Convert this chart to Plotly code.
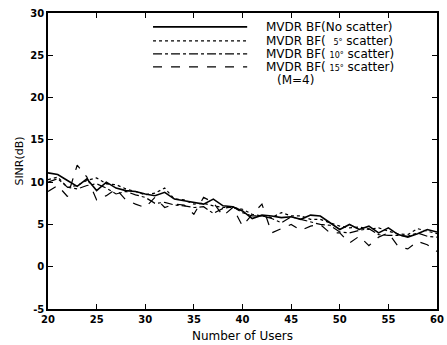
import plotly.graph_objects as go

users = list(range(20, 61))
no_scatter = [11.1, 10.9, 10.2, 9.5, 10.4, 9.0, 10.0, 9.3, 9.0, 8.9, 8.6, 8.4, 8.8, 8.0, 7.8, 7.6, 7.4, 8.0, 7.2, 7.1,
              6.6, 5.7, 6.1, 6.0, 5.8, 5.9, 5.6, 6.1, 6.0, 5.2, 4.4, 5.0, 4.4, 4.8, 4.0, 4.6, 3.8, 3.5, 3.9, 4.4, 4.1]
scatter5 = [10.3, 10.6, 9.4, 9.6, 10.2, 10.5, 9.8, 9.7, 9.2, 8.9, 8.5, 8.7, 9.3, 8.0, 7.9, 7.4, 7.5, 7.2, 7.0, 7.0,
            6.8, 6.2, 6.0, 5.8, 6.4, 6.0, 6.0, 5.6, 5.6, 5.2, 4.8, 4.6, 4.7, 4.4, 4.6, 4.2, 3.9, 3.8, 4.5, 4.2, 3.9]
scatter10 = [10.0, 10.4, 9.4, 9.2, 9.6, 9.8, 9.3, 8.6, 8.9, 8.5, 8.2, 7.5, 7.6, 7.3, 7.2, 7.0, 7.1, 6.3, 6.9, 7.1,
             6.4, 6.0, 6.0, 5.7, 5.2, 5.9, 5.6, 5.3, 5.0, 4.9, 4.1, 4.0, 4.3, 4.5, 3.8, 3.7, 3.7, 3.6, 4.0, 3.6, 3.5]
scatter15 = [8.9, 9.6, 8.3, 12.0, 10.6, 7.9, 8.4, 9.2, 7.9, 7.4, 7.0, 8.2, 7.0, 7.4, 7.3, 6.2, 8.2, 7.6, 6.0, 7.0,
             4.8, 6.2, 7.4, 4.0, 4.5, 5.0, 4.3, 4.8, 5.0, 4.0, 4.0, 2.8, 3.6, 2.5, 3.5, 4.0, 2.4, 2.1, 3.0, 2.6, 1.8]

FONT = "DejaVu Sans, Liberation Sans, Arial, sans-serif"

series = [
    ("MVDR BF(No scatter)", no_scatter, "solid", 1.6),
    ("MVDR BF(  <span style='font-size:8px'>5°</span> scatter)", scatter5, "dot", 1.2),
    ("MVDR BF( <span style='font-size:8px'>10°</span> scatter)", scatter10, "dashdot", 1.2),
    ("MVDR BF( <span style='font-size:8px'>15°</span> scatter)", scatter15, "dash", 1.2),
]

fig = go.Figure()
for name, vals, dash, w in series:
    fig.add_trace(go.Scatter(x=users, y=vals, mode="lines", name=name,
                             line=dict(color="black", dash=dash, width=w), showlegend=False))

# manual legend (paper coordinates)
rows_y = [0.953, 0.906, 0.862, 0.818]
for (name, vals, dash, w), yy in zip(series, rows_y):
    fig.add_shape(type="line", xref="paper", yref="paper", x0=0.27, x1=0.512, y0=yy, y1=yy,
                  line=dict(color="black", dash=dash, width=w))
    fig.add_annotation(xref="paper", yref="paper", x=0.557, y=yy, text=name, showarrow=False,
                       xanchor="left", yanchor="middle", borderpad=0, height=12,
                       font=dict(size=12, color="black", family=FONT))
fig.add_annotation(xref="paper", yref="paper", x=0.585, y=0.772, text="(M=4)", showarrow=False,
                   xanchor="left", yanchor="middle", borderpad=0, height=12,
                   font=dict(size=12, color="black", family=FONT))

ticks = [20, 25, 30, 35, 40, 45, 50, 55, 60]
yticks = [-5, 0, 5, 10, 15, 20, 25, 30]
axis_common = dict(showgrid=False, zeroline=False, showline=True, linecolor="black", linewidth=1.5,
                   mirror="ticks", ticks="inside", ticklen=5, tickcolor="black", automargin=False,
                   tickfont=dict(size=10, color="black", family=FONT))
fig.update_xaxes(range=[20, 60], tickvals=ticks, ticktext=[f"<b>{t}</b>" for t in ticks],
                 title=dict(text="Number of Users", font=dict(size=12, color="black", family=FONT), standoff=8),
                 **axis_common)
fig.update_yaxes(range=[-5, 30], tickvals=yticks, ticktext=[f"<b>{t}</b>" for t in yticks],
                 title=dict(text="SINR(dB)", font=dict(size=11, color="black", family=FONT), standoff=4),
                 **axis_common)
fig.update_layout(width=447, height=345, margin=dict(l=48, r=10, t=13, b=36),
                  paper_bgcolor="white", plot_bgcolor="white",
                  font=dict(family=FONT, color="black"))
fig.write_html("out.html")
